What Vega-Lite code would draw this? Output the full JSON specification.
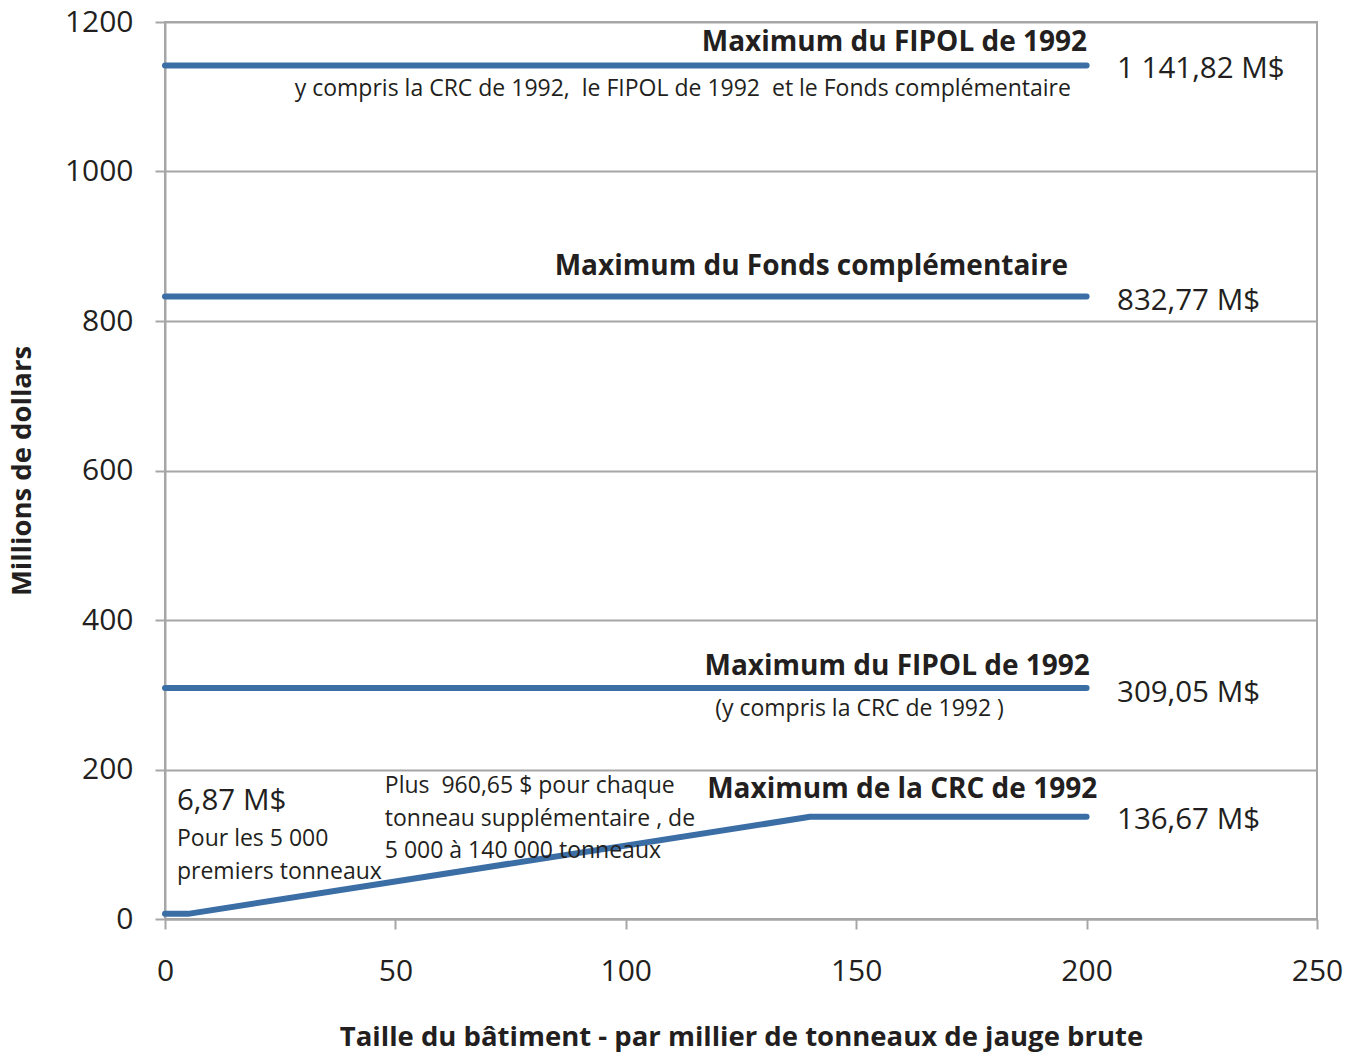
{
  "$schema": "https://vega.github.io/schema/vega-lite/v6.json",
  "width": 1152,
  "height": 897,
  "autosize": {"type": "none"},
  "padding": {"left": 165, "top": 22, "right": 34, "bottom": 134},
  "background": "white",
  "config": {
    "font": "Open Sans",
    "view": {"stroke": "#a6a6a6", "strokeWidth": 2},
    "axis": {"domainColor": "#a6a6a6", "domainWidth": 2, "tickColor": "#a6a6a6", "tickWidth": 2, "tickSize": 10, "gridColor": "#a6a6a6", "gridWidth": 2, "labelFont": "Open Sans", "labelFontSize": 30, "labelColor": "#231f20", "titleFont": "Open Sans", "titleFontSize": 27.5, "titleFontWeight": "bold", "titleColor": "#231f20"}
  },
  "datasets": {
    "lines": [
      {"series": "FIPOL + complémentaire", "x": 0, "y": 1141.82},
      {"series": "FIPOL + complémentaire", "x": 200, "y": 1141.82},
      {"series": "Fonds complémentaire", "x": 0, "y": 832.77},
      {"series": "Fonds complémentaire", "x": 200, "y": 832.77},
      {"series": "FIPOL 1992", "x": 0, "y": 309.05},
      {"series": "FIPOL 1992", "x": 200, "y": 309.05},
      {"series": "CRC 1992", "x": 0, "y": 6.87},
      {"series": "CRC 1992", "x": 5, "y": 6.87},
      {"series": "CRC 1992", "x": 140, "y": 136.67},
      {"series": "CRC 1992", "x": 200, "y": 136.67}
    ],
    "titles": [
      {"x": 200.1, "y": 1172, "label": "Maximum du FIPOL de 1992"},
      {"x": 196, "y": 872.6, "label": "Maximum du Fonds complémentaire"},
      {"x": 200.7, "y": 337.5, "label": "Maximum du FIPOL de 1992"},
      {"x": 202.3, "y": 172.9, "label": "Maximum de la CRC de 1992"}
    ],
    "values": [
      {"x": 206.6, "y": 1136.5, "label": "1 141,82 M$"},
      {"x": 206.6, "y": 827.4, "label": "832,77 M$"},
      {"x": 206.6, "y": 303, "label": "309,05 M$"},
      {"x": 206.6, "y": 131.8, "label": "136,67 M$"},
      {"x": 2.6, "y": 157.7, "label": "6,87 M$"}
    ],
    "notesRight": [
      {"x": 196.6, "y": 1110.7, "label": "y compris la CRC de 1992,\u00a0 le FIPOL de 1992\u00a0 et le Fonds complémentaire"}
    ],
    "notesLeft": [
      {"x": 119.4, "y": 281.3, "label": "(y compris la CRC de 1992 )"},
      {"x": 2.6, "y": 107.4, "label": "Pour les 5 000"},
      {"x": 2.6, "y": 63.2, "label": "premiers tonneaux"},
      {"x": 47.7, "y": 178.3, "label": "Plus\u00a0 960,65 $ pour chaque"},
      {"x": 47.7, "y": 134.1, "label": "tonneau supplémentaire , de"},
      {"x": 47.7, "y": 91.3, "label": "5 000 à 140 000 tonneaux"}
    ]
  },
  "layer": [
    {
      "data": {"name": "lines"},
      "mark": {"type": "line", "color": "#3c6ea6", "strokeWidth": 6, "strokeCap": "round", "strokeJoin": "round"},
      "encoding": {
        "x": {"field": "x", "type": "quantitative", "scale": {"domain": [0, 250], "nice": false}, "axis": {"values": [0, 50, 100, 150, 200, 250], "grid": false, "labelFlush": false, "labelPadding": 27, "title": "Taille du bâtiment - par millier de tonneaux de jauge brute", "titleY": 118, "titleBaseline": "middle"}},
        "y": {"field": "y", "type": "quantitative", "scale": {"domain": [0, 1200], "nice": false}, "axis": {"values": [0, 200, 400, 600, 800, 1000, 1200], "format": "d", "labelFlush": false, "grid": true, "labelPadding": 22, "title": "Millions de dollars", "titleX": -143, "titleBaseline": "middle", "titleAngle": -90}},
        "detail": {"field": "series", "type": "nominal"}
      }
    },
    {
      "data": {"name": "titles"},
      "mark": {"type": "text", "align": "right", "baseline": "middle", "fontWeight": "bold", "fontSize": 28, "color": "#231f20"},
      "encoding": {
        "x": {"field": "x", "type": "quantitative"},
        "y": {"field": "y", "type": "quantitative"},
        "text": {"field": "label"}
      }
    },
    {
      "data": {"name": "values"},
      "mark": {"type": "text", "align": "left", "baseline": "middle", "fontSize": 29.5, "color": "#231f20"},
      "encoding": {
        "x": {"field": "x", "type": "quantitative"},
        "y": {"field": "y", "type": "quantitative"},
        "text": {"field": "label"}
      }
    },
    {
      "data": {"name": "notesRight"},
      "mark": {"type": "text", "align": "right", "baseline": "middle", "fontSize": 23, "color": "#231f20"},
      "encoding": {
        "x": {"field": "x", "type": "quantitative"},
        "y": {"field": "y", "type": "quantitative"},
        "text": {"field": "label"}
      }
    },
    {
      "data": {"name": "notesLeft"},
      "mark": {"type": "text", "align": "left", "baseline": "middle", "fontSize": 23, "color": "#231f20"},
      "encoding": {
        "x": {"field": "x", "type": "quantitative"},
        "y": {"field": "y", "type": "quantitative"},
        "text": {"field": "label"}
      }
    }
  ]
}
